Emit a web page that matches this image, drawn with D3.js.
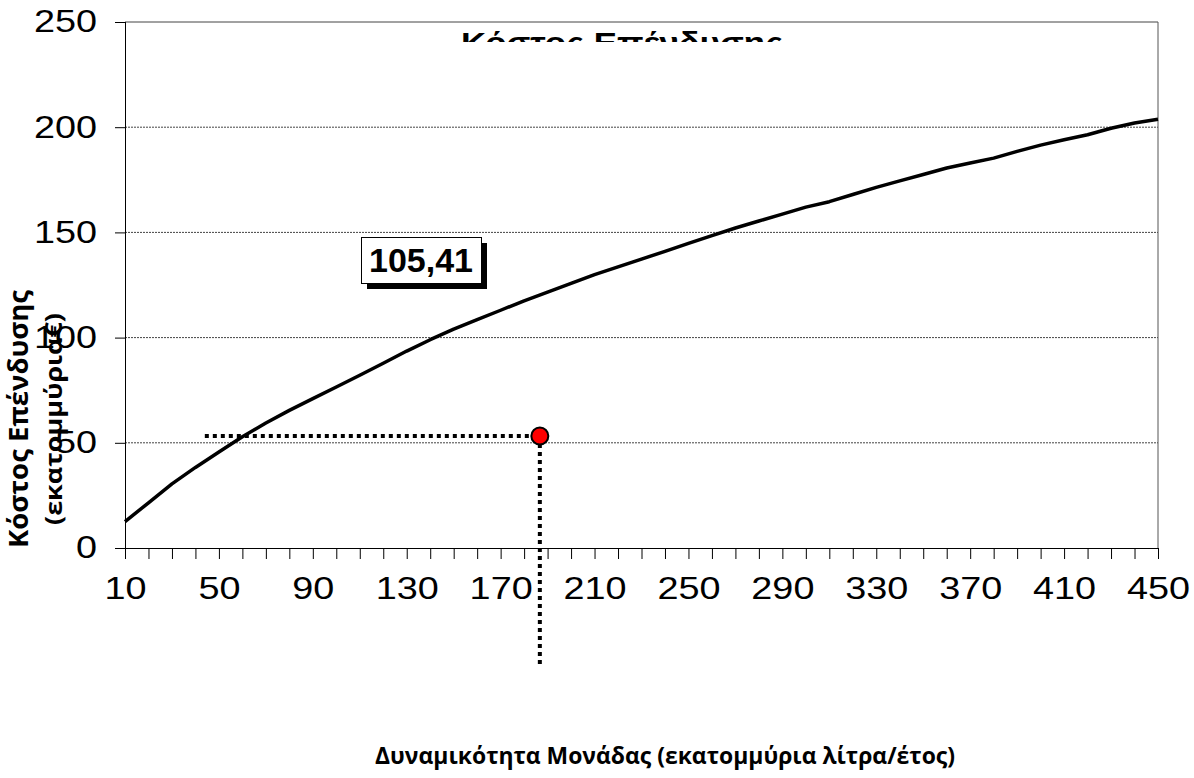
<!doctype html>
<html>
  <head>
    <meta charset="utf-8">
    <title>Κόστος Επένδυσης</title>
    <script type="text/javascript" src="https://d3js.org/d3.v7.min.js"></script>
    <style>
      body { margin: 0; background: #fff; }
    </style>
  </head>
  <body>
    <script>
      // δυναμικότητα (εκατομμύρια λίτρα/έτος)
      const capacity = [10, 20, 30, 40, 50, 60, 70, 80, 90, 100, 110, 120, 130, 140, 150,
        160, 170, 180, 190, 200, 210, 220, 230, 240, 250, 260, 270, 280, 290, 300,
        310, 320, 330, 340, 350, 360, 370, 380, 390, 400, 410, 420, 430, 440, 450];
      // κόστος επένδυσης (εκατομμύρια €)
      const cost = [12.5, 21.5, 30.5, 38.3, 45.6, 52.9, 59.4, 65.4, 71.0, 76.5, 82.1, 87.8, 93.6, 99.0, 104.0,
        108.5, 113.0, 117.5, 121.6, 125.8, 129.9, 133.6, 137.3, 141.0, 144.8, 148.5, 152.1, 155.4, 158.7, 162.0,
        164.6, 168.0, 171.4, 174.5, 177.5, 180.6, 183.0, 185.3, 188.5, 191.5, 194.0, 196.4, 199.5, 202.0, 203.8];
      const xTickLabels = [10, 50, 90, 130, 170, 210, 250, 290, 330, 370, 410, 450];
      const yTickLabels = [0, 50, 100, 150, 200, 250];

      // σημείο λειτουργίας και βοηθητικές γραμμές
      const marker = { x: 186.7, y: 53.2 };
      const guideStartX = 44;
      const guideEndY = -55.5;
      const boxLabel = '105,41';

      const width = 1194;
      const height = 778;
      const margin = { top: 22, right: 36, bottom: 230, left: 125 };
      const tickStretch = 1.22; // τα νούμερα των αξόνων είναι πλατιά

      const svg = d3.select('body').append('svg')
          .attr('width', width)
          .attr('height', height)
          .style('font-family', '"Liberation Sans", Arial, sans-serif');

      const x = d3.scaleLinear()
          .domain([10, 450])
          .range([margin.left, width - margin.right]);

      const y = d3.scaleLinear()
          .domain([0, 250])
          .range([height - margin.bottom, margin.top]);

      // πλέγμα
      svg.append('g')
        .selectAll('line')
        .data(yTickLabels.filter(d => d > 0))
        .enter().append('line')
          .attr('x1', x(10))
          .attr('x2', x(450))
          .attr('y1', d => y(d))
          .attr('y2', d => y(d))
          .attr('stroke', '#444')
          .attr('stroke-width', 1)
          .attr('stroke-dasharray', d => d === 250 ? null : '2,1');

      // δεξί περίγραμμα
      svg.append('line')
          .attr('x1', x(450)).attr('x2', x(450))
          .attr('y1', y(250)).attr('y2', y(0))
          .attr('stroke', '#555');

      // τίτλος (κομμένος από την περιοχή του γραφήματος)
      svg.append('clipPath')
          .attr('id', 'titleClip')
        .append('rect')
          .attr('x', 0).attr('y', 0)
          .attr('width', width).attr('height', 42);

      svg.append('text')
          .attr('clip-path', 'url(#titleClip)')
          .attr('x', 622)
          .attr('y', 53)
          .attr('text-anchor', 'middle')
          .attr('font-size', 30)
          .attr('font-weight', 'bold')
          .attr('textLength', 322)
          .attr('lengthAdjust', 'spacingAndGlyphs')
          .text('Κόστος Επένδυσης');

      // άξονας x
      const xAxis = d3.axisBottom(x)
          .tickValues(capacity)
          .tickSize(11)
          .tickSizeOuter(0)
          .tickFormat(d => xTickLabels.includes(d) ? d : '');

      const gx = svg.append('g')
          .attr('transform', `translate(0, ${y(0)})`)
          .call(xAxis);
      gx.select('.domain')
          .attr('d', `M${x(10) - 10},0.5H${x(450)}`)
          .attr('stroke', '#000');
      gx.selectAll('.tick line').attr('stroke', '#000');
      gx.selectAll('.tick text')
          .attr('y', 29)
          .attr('dy', '0.71em')
          .attr('transform', `scale(${tickStretch},1)`)
          .attr('font-size', 31)
          .attr('font-family', '"Liberation Sans", Arial, sans-serif')
          .attr('fill', '#000');

      // άξονας y
      const yAxis = d3.axisLeft(y)
          .tickValues(yTickLabels)
          .tickSize(10)
          .tickSizeOuter(0);

      const gy = svg.append('g')
          .attr('transform', `translate(${x(10)}, 0)`)
          .call(yAxis);
      gy.select('.domain')
          .attr('d', `M0.5,${y(250)}V${y(0) + 11}`)
          .attr('stroke', '#000');
      gy.selectAll('.tick line').attr('stroke', '#000');
      gy.selectAll('.tick text')
          .attr('x', -28 / tickStretch)
          .attr('transform', `scale(${tickStretch},1)`)
          .attr('font-size', 31)
          .attr('font-family', '"Liberation Sans", Arial, sans-serif')
          .attr('fill', '#000');

      // καμπύλη κόστους
      const line = d3.line()
          .x((d, i) => x(capacity[i]))
          .y(d => y(d));

      svg.append('path')
          .datum(cost)
          .attr('d', line)
          .attr('fill', 'none')
          .attr('stroke', '#000')
          .attr('stroke-width', 3.5)
          .attr('stroke-linejoin', 'round');

      // βοηθητικές διακεκομμένες γραμμές
      svg.append('line')
          .attr('x1', x(guideStartX)).attr('x2', x(marker.x))
          .attr('y1', y(marker.y)).attr('y2', y(marker.y))
          .attr('stroke', '#000')
          .attr('stroke-width', 4)
          .attr('stroke-dasharray', '4,4');

      svg.append('line')
          .attr('x1', x(marker.x)).attr('x2', x(marker.x))
          .attr('y1', y(marker.y)).attr('y2', y(guideEndY))
          .attr('stroke', '#000')
          .attr('stroke-width', 4)
          .attr('stroke-dasharray', '4,4');

      svg.append('circle')
          .attr('cx', x(marker.x))
          .attr('cy', y(marker.y))
          .attr('r', 8.5)
          .attr('fill', '#f00')
          .attr('stroke', '#000')
          .attr('stroke-width', 2);

      // ετικέτα τιμής με σκιά
      const box = { x0: 361, y0: 237, w: 120, h: 46 };
      svg.append('rect')
          .attr('x', box.x0 + 6).attr('y', box.y0 + 6)
          .attr('width', box.w).attr('height', box.h)
          .attr('fill', '#000');
      svg.append('rect')
          .attr('x', box.x0 + 0.5).attr('y', box.y0 + 0.5)
          .attr('width', box.w).attr('height', box.h)
          .attr('fill', '#fff')
          .attr('stroke', '#000')
          .attr('stroke-width', 1);
      svg.append('text')
          .attr('x', box.x0 + box.w / 2)
          .attr('y', 272)
          .attr('text-anchor', 'middle')
          .attr('font-size', 34)
          .attr('font-weight', 'bold')
          .text(boxLabel);

      // τίτλοι αξόνων
      const yTitle = svg.append('text')
          .attr('transform', 'translate(0, 419) rotate(-90)')
          .attr('text-anchor', 'middle')
          .style('font-family', '"Open Sans", "Noto Sans", sans-serif')
          .attr('font-weight', 'bold');
      yTitle.append('tspan')
          .attr('x', 0).attr('y', 28)
          .attr('font-size', 26)
          .attr('textLength', 258)
          .attr('lengthAdjust', 'spacingAndGlyphs')
          .text('Κόστος Επένδυσης');
      yTitle.append('tspan')
          .attr('x', 0).attr('y', 62)
          .attr('font-size', 23)
          .attr('textLength', 212)
          .attr('lengthAdjust', 'spacingAndGlyphs')
          .text('(εκατομμύρια€)');

      svg.append('text')
          .attr('x', 665)
          .attr('y', 764)
          .attr('text-anchor', 'middle')
          .style('font-family', '"Open Sans", "Noto Sans", sans-serif')
          .attr('font-size', 24)
          .attr('font-weight', 'bold')
          .attr('textLength', 580)
          .attr('lengthAdjust', 'spacingAndGlyphs')
          .text('Δυναμικότητα Μονάδας (εκατομμύρια λίτρα/έτος)');
    </script>
  </body>
</html>
